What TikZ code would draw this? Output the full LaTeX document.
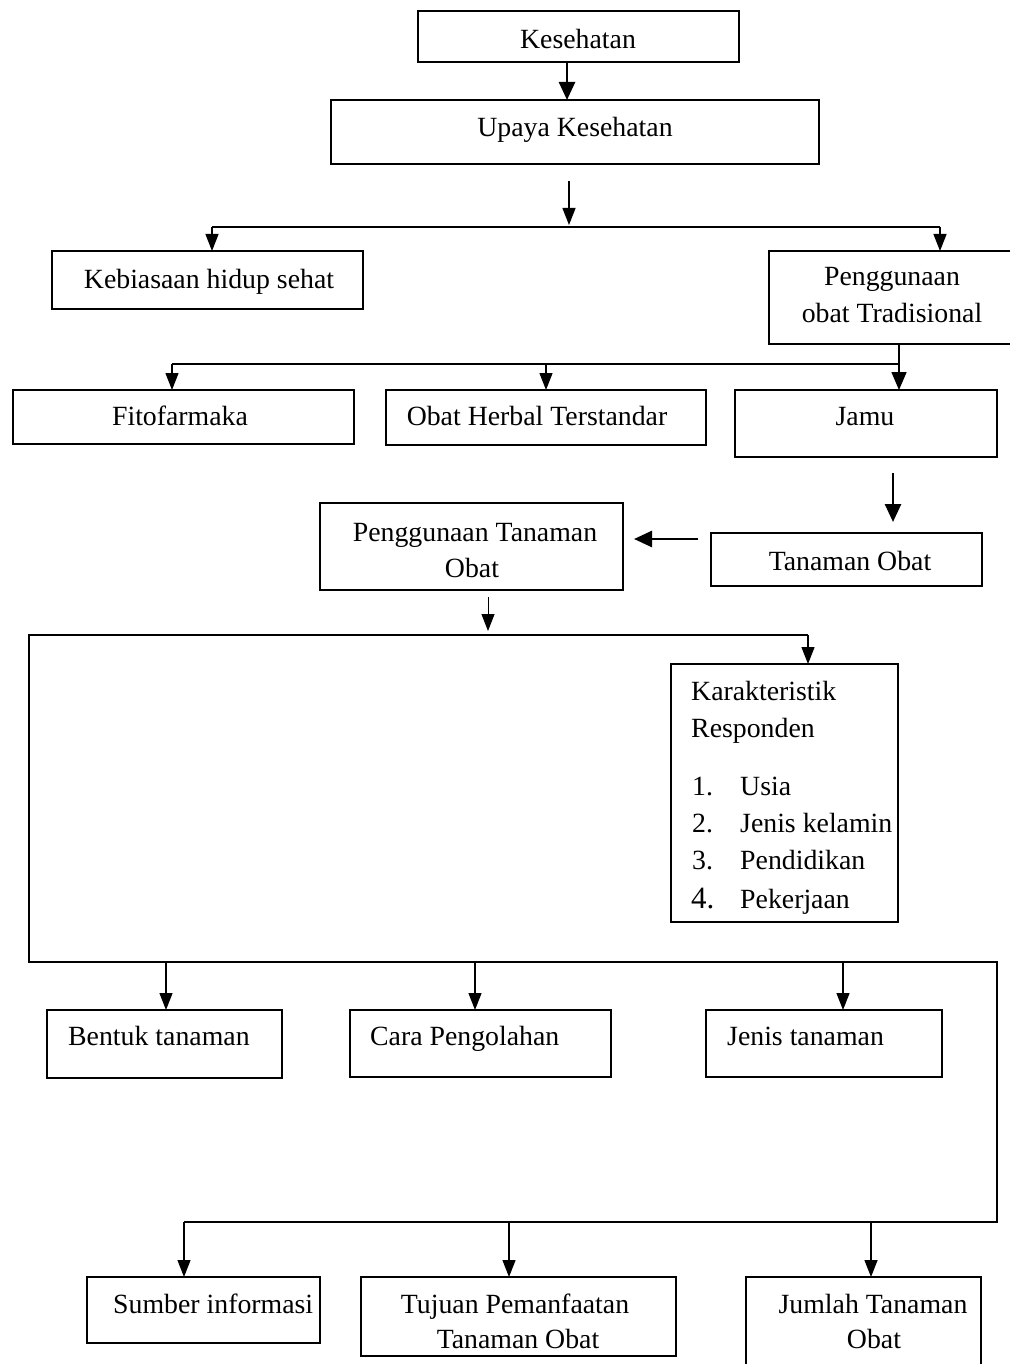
\documentclass[tikz,border=0pt]{standalone}
\usepackage{fontspec}
\setmainfont{Liberation Serif}
\usetikzlibrary{arrows.meta,calc}
\newcommand\mkbox[5]{\node[box, minimum width={#4-#2}, minimum height={#5-#3}] (#1) at ({(#2+#4)/2},{(#3+#5)/2}) {};}
\begin{document}
\begin{tikzpicture}[x=1pt,y=-1pt,
  box/.style={draw, line width=1.4pt, inner sep=0pt, outer sep=0pt},
  txt/.style={inner sep=0pt, font=\fontsize{27.8}{34}\selectfont, anchor=base},
  ltxt/.style={txt, anchor=base west},
  conn/.style={line width=1.3pt},
  arr/.style={line width=1.3pt, -{Triangle[length=17pt,width=13pt]}},
  tarr/.style={line width=2.6pt, -{Triangle[length=18pt,width=16pt]}},
]
\useasboundingbox (0,0) rectangle (1009,1364);

% boxes
\mkbox{kes}{418}{11}{739}{62}
\mkbox{upaya}{331}{100}{819}{164}
\mkbox{kebi}{52}{251}{363}{309}
\mkbox{pot}{769}{251}{1014}{344}
\mkbox{fito}{13}{390}{354}{444}
\mkbox{ohs}{386}{390}{706}{445}
\mkbox{jamu}{735}{390}{997}{457}
\mkbox{pto}{320}{503}{623}{590}
\mkbox{tan}{711}{533}{982}{586}
\mkbox{kar}{671}{664}{898}{922}
\mkbox{bent}{47}{1010}{282}{1078}
\mkbox{cara}{350}{1010}{611}{1077}
\mkbox{jenis}{706}{1010}{942}{1077}
\mkbox{sumber}{87}{1277}{320}{1343}
\mkbox{tujuan}{361}{1277}{676}{1356}
\mkbox{jumlah}{746}{1277}{981}{1385}

% texts
\node[txt] (tKes) at (578,49) {Kesehatan};
\node[txt] (tUp) at (575,137) {Upaya Kesehatan};
\node[txt] (tKeb) at (209,288) {Kebiasaan hidup sehat};
\node[txt] (tPot1) at (892,285) {Penggunaan};
\node[txt] (tPot2) at (892,322) {obat Tradisional};
\node[txt] (tFit) at (180,425) {Fitofarmaka};
\node[txt] (tOhs) at (537,425) {Obat Herbal Terstandar};
\node[txt] (tJam) at (865,425) {Jamu};
\node[txt] (tPto1) at (475,541) {Penggunaan Tanaman};
\node[txt] (tPto2) at (472,577) {Obat};
\node[txt] (tTan) at (850,570) {Tanaman Obat};
\node[ltxt] (tKar1) at (691,700) {Karakteristik};
\node[ltxt] (tKar2) at (691,737) {Responden};
\node[ltxt] (n1) at (692,795) {1.};
\node[ltxt] (i1) at (740,795) {Usia};
\node[ltxt] (n2) at (692,832) {2.};
\node[ltxt] (i2) at (740,832) {Jenis kelamin};
\node[ltxt] (n3) at (692,869) {3.};
\node[ltxt] (i3) at (740,869) {Pendidikan};
\node[ltxt, font=\fontsize{31}{34}\selectfont] (n4) at (691,908) {4.};
\node[ltxt] (i4) at (740,908) {Pekerjaan};
\node[ltxt] (tBent) at (68,1045) {Bentuk tanaman};
\node[ltxt] (tCara) at (370,1045) {Cara Pengolahan};
\node[ltxt] (tJen) at (727,1045) {Jenis tanaman};
\node[ltxt] (tSum) at (113,1313) {Sumber informasi};
\node[txt] (tTuj1) at (515,1313) {Tujuan Pemanfaatan};
\node[txt] (tTuj2) at (518,1348) {Tanaman Obat};
\node[txt] (tJum1) at (873,1313) {Jumlah Tanaman};
\node[txt] (tJum2) at (874,1348) {Obat};

% connectors
\coordinate (c1) at (567,0);
\draw[tarr] (kes.south -| c1) -- (upaya.north -| c1);

\coordinate (s1) at (569,181);
\coordinate (s2) at (569,225);
\draw[arr] (s1) -- (s2);
\coordinate (h1) at (212,227);
\coordinate (h2) at (940,227);
\draw[conn] (h1) -- (h2);
\draw[arr] (h1) -- (h1 |- kebi.north);
\draw[arr] (h2) -- (h2 |- pot.north);

\coordinate (p1) at (899,0);
\coordinate (h3) at (172,364);
\coordinate (h4) at (546,364);
\draw[line width=1.6pt, -{Triangle[length=18pt,width=15pt]}] (pot.south -| p1) -- (jamu.north -| p1);
\draw[conn] (h3) -- (h3 -| p1);
\draw[arr] (h3) -- (h3 |- fito.north);
\draw[arr] (h4) -- (h4 |- ohs.north);

\coordinate (j1) at (893,473);
\coordinate (j2) at (893,522);
\draw[tarr] (j1) -- (j2);
\coordinate (t1) at (698,539);
\coordinate (t2) at (634,539);
\draw[tarr] (t1) -- (t2);
\coordinate (u1) at (488,597);
\coordinate (u2) at (488,631);
\draw[arr, line width=1pt] (u1) -- (u2);

\coordinate (f1) at (29,635);
\coordinate (f2) at (808,635);
\coordinate (f3) at (29,962);
\coordinate (f4) at (997,962);
\coordinate (f5) at (997,1222);
\coordinate (f6) at (184,1222);
\draw[conn] (f2) -- (f1) -- (f3) -- (f4) -- (f5) -- (f6);
\draw[arr] (f2) -- (kar.north -| f2);
\coordinate (m1) at (184,635);
\coordinate (m2) at (192,635);
\draw[line width=2.6pt] (m1) -- (m2);

\coordinate (b1) at (166,962);
\coordinate (b2) at (475,962);
\coordinate (b3) at (843,962);
\draw[arr] (b1) -- (b1 |- bent.north);
\draw[arr] (b2) -- (b2 |- cara.north);
\draw[arr] (b3) -- (b3 |- jenis.north);

\coordinate (d2) at (509,1222);
\coordinate (d3) at (871,1222);
\draw[arr] (f6) -- (f6 |- sumber.north);
\draw[arr] (d2) -- (d2 |- tujuan.north);
\draw[arr] (d3) -- (d3 |- jumlah.north);
\end{tikzpicture}
\end{document}
